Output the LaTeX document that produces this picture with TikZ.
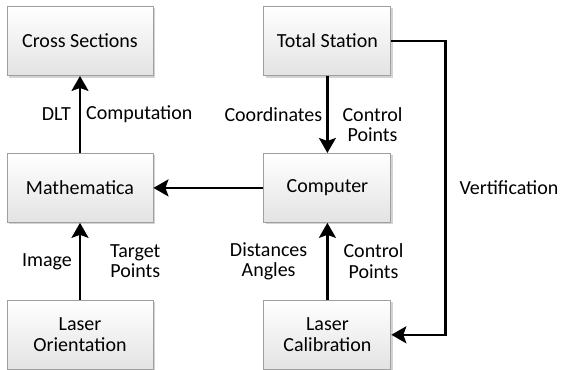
\documentclass[tikz,border=0pt]{standalone}
\usepackage{fontspec}
\setmainfont{Carlito}
\usetikzlibrary{arrows.meta, positioning, shadows}

\begin{document}
\begin{tikzpicture}[
  node distance=77pt and 110pt,
  box/.style={rectangle, draw=gray!75, line width=0.9pt, top color=white, bottom color=gray!22, drop shadow={shadow xshift=2pt, shadow yshift=-2pt, opacity=0.35}, align=center, minimum height=69pt, font=\fontsize{20}{20.5}\selectfont},
  leftcol/.style={box, minimum width=146pt},
  rightcol/.style={box, minimum width=127pt},
  lbl/.style={inner sep=2pt, align=center, font=\fontsize{20}{20.5}\selectfont},
  arrow/.style={-{Stealth[length=15pt, width=17pt, inset=3pt]}, line width=2.3pt}
]
\useasboundingbox (-80pt,41pt) rectangle (481pt,-328pt);

\node[leftcol] (cs) at (0,0) {Cross Sections};
\node[rightcol, right=of cs] (ts) {Total Station};
\node[leftcol, below=of cs] (math) {Mathematica};
\node[rightcol, below=of ts] (comp) {Computer};
\node[leftcol, below=of math] (lo) {Laser\\Orientation};
\node[rightcol, below=of comp] (lc) {Laser\\Calibration};

\coordinate[right=54pt of ts.east] (vtop);
\coordinate (vbot) at (vtop |- lc.east);

\draw[arrow] (math) -- node[lbl, left=6pt] {DLT} node[lbl, right=3pt] {Computation} (cs);
\draw[arrow] (ts) -- node[lbl, left=2pt] {Coordinates} node[lbl, right=12pt, yshift=-10pt] {Control\\Points} (comp);
\draw[arrow] (comp) -- (math);
\draw[arrow] (lo) -- node[lbl, left=5pt] {Image} node[lbl, right=27pt] {Target\\Points} (math);
\draw[arrow] (lc) -- node[lbl, left=17pt] {Distances\\Angles} node[lbl, right=13pt] {Control\\Points} (comp);
\draw[arrow] (ts.east) -- (vtop) -- node[lbl, right=11pt] {Vertification} (vbot) -- (lc.east);
\end{tikzpicture}
\end{document}
